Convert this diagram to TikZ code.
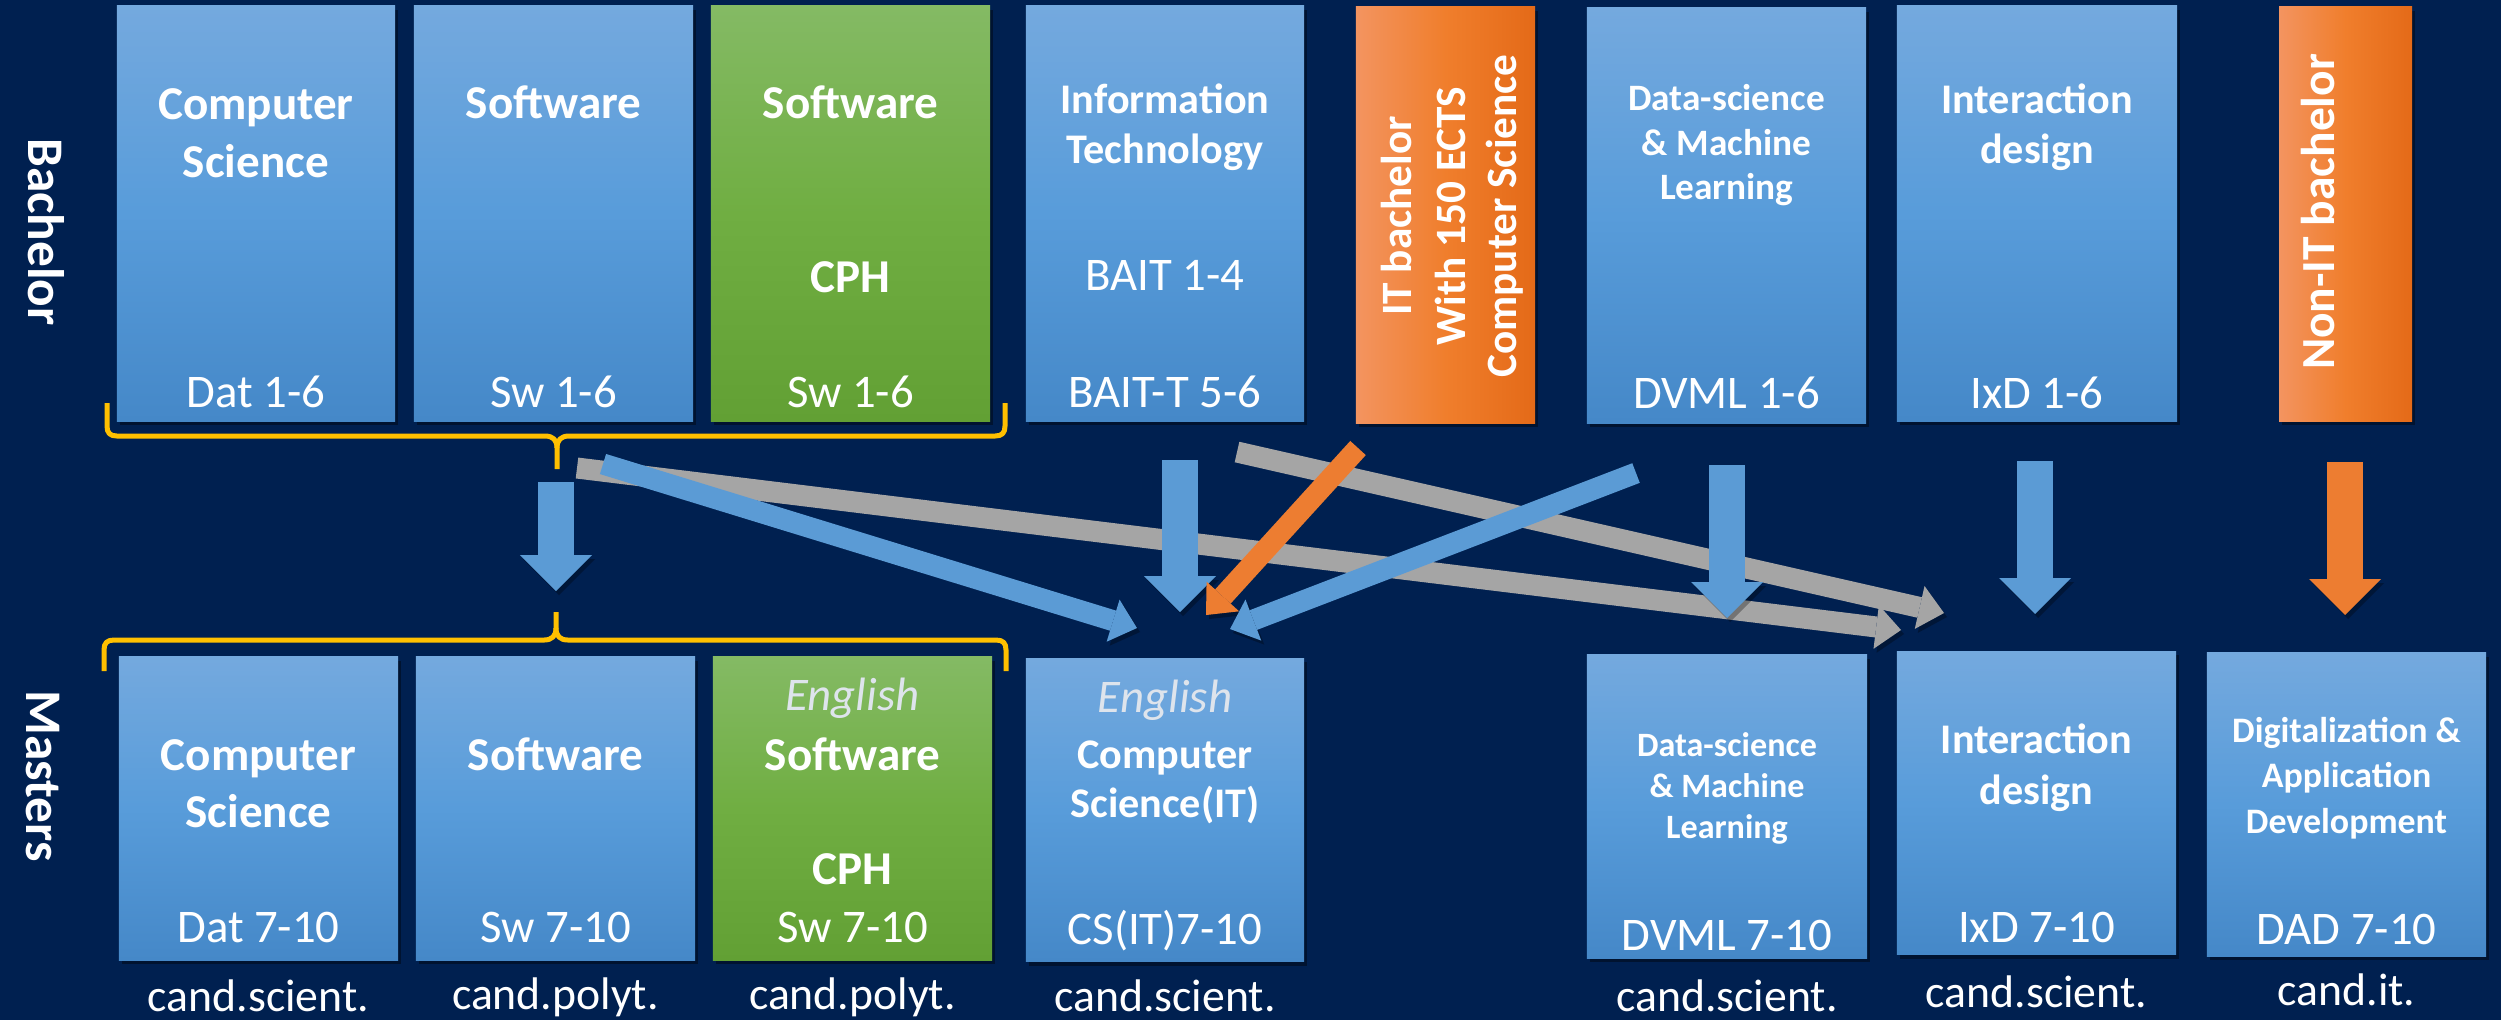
\documentclass[tikz,border=0pt]{standalone}
\usepackage{fontspec}
\setmainfont{Carlito}
\usetikzlibrary{arrows.meta,shadows}
\definecolor{bg}{RGB}{0,32,80}
\definecolor{bluetop}{RGB}{116,169,222}
\definecolor{bluemid}{RGB}{88,156,218}
\definecolor{bluebot}{RGB}{69,136,200}
\definecolor{greentop}{RGB}{132,186,100}
\definecolor{greenmid}{RGB}{112,174,66}
\definecolor{greenbot}{RGB}{98,160,52}
\definecolor{orleft}{RGB}{243,148,96}
\definecolor{ormid}{RGB}{240,126,44}
\definecolor{orright}{RGB}{228,106,24}
\definecolor{accblue}{RGB}{91,155,213}
\definecolor{accorange}{RGB}{237,125,49}
\definecolor{accgray}{RGB}{165,165,165}
\definecolor{bracecol}{RGB}{255,192,0}
\definecolor{engl}{RGB}{222,228,236}
\begin{document}
\begin{tikzpicture}[x=0.01cm,y=-0.01cm,
  box/.style={rectangle, inner sep=0pt, outer sep=0pt,
    drop shadow={shadow xshift=0.03cm, shadow yshift=-0.04cm, opacity=0.4, fill=black}},
  bluebox/.style={box, top color=bluetop, bottom color=bluebot, middle color=bluemid},
  greenbox/.style={box, top color=greentop, bottom color=greenbot, middle color=greenmid},
  orbox/.style={box, left color=orleft, right color=orright, middle color=ormid},
  topbox/.style={minimum height=4.15cm},
  botbox/.style={minimum height=3.03cm},
  txt/.style={text=white, inner sep=0pt, outer sep=0pt, anchor=base},
  tb/.style={txt, font=\bfseries\fontsize{13.4}{16}\selectfont},
  tm/.style={txt, font=\bfseries\fontsize{12}{14}\selectfont},
  ts/.style={txt, font=\bfseries\fontsize{10.6}{12.5}\selectfont},
  ts2/.style={txt, font=\bfseries\fontsize{9.7}{11.5}\selectfont},
  tsd/.style={txt, font=\bfseries\fontsize{10.2}{12}\selectfont},
  code/.style={txt, font=\fontsize{13.3}{16}\selectfont},
  eng/.style={txt, text=engl, font=\itshape\fontsize{13.3}{16}\selectfont},
  cand/.style={txt, font=\fontsize{13}{16}\selectfont},
  side/.style={txt, rotate=-90, font=\bfseries\fontsize{14.6}{17}\selectfont},
  vtxt/.style={txt, rotate=90, font=\bfseries\fontsize{12.3}{15}\selectfont},
  shad/.style={preaction={draw=black, opacity=0.3, transform canvas={shift={(0.03cm,-0.04cm)}}}},
  varrow/.style={shad, line width=0.36cm, -{Triangle[width=0.72cm,length=0.36cm,line width=0pt]}},
  darrow/.style={shad, line width=0.21cm, -{Triangle[width=0.44cm,length=0.25cm,line width=0pt]}},
  bracepath/.style={draw=bracecol, line width=0.05cm, line join=round}
]
\fill[bg] (0,0) rectangle (2501,1020);
\useasboundingbox (0,0) rectangle (2501,1020);

% ---------- side labels
\node[side] (lBach) at (28,232) {Bachelor};
\node[side] (lMast) at (27,776) {Masters};

% ---------- bachelor boxes
\node[bluebox, topbox, minimum width=2.78cm] (bCS) at (256,213.5) {};
\node[bluebox, topbox, minimum width=2.79cm] (bSW) at (553.5,213.5) {};
\node[greenbox, topbox, minimum width=2.79cm] (bSWc) at (850.5,213.5) {};
\node[bluebox, topbox, minimum width=2.78cm] (bIT) at (1165,213.5) {};
\node[orbox, minimum width=1.79cm, minimum height=4.16cm] (bITb) at (1445.5,215) {};
\node[bluebox, topbox, minimum width=2.79cm] (bDV) at (1726.5,215.5) {};
\node[bluebox, topbox, minimum width=2.80cm] (bIx) at (2037,213.5) {};
\node[orbox, minimum width=1.33cm, minimum height=4.14cm] (bNon) at (2345.5,214) {};

% ---------- master boxes
\node[bluebox, botbox, minimum width=2.79cm] (mCS) at (258.5,808.5) {};
\node[bluebox, botbox, minimum width=2.79cm] (mSW) at (555.5,808.5) {};
\node[greenbox, botbox, minimum width=2.79cm] (mSWc) at (852.5,808.5) {};
\node[bluebox, botbox, minimum width=2.78cm] (mCSIT) at (1165,810) {};
\node[bluebox, botbox, minimum width=2.80cm] (mDV) at (1727,806.5) {};
\node[bluebox, botbox, minimum width=2.79cm] (mIx) at (2036.5,803) {};
\node[bluebox, botbox, minimum width=2.79cm] (mDAD) at (2346.5,804.5) {};

% ---------- bachelor texts
\node[tb] (tCS1) at (256,119) {Computer};
\node[tb] (tCS2) at (256,177) {Science};
\node[code] (cCS) at (256,407) {Dat 1-6};
\node[tb] (tSW) at (553.5,118) {Software};
\node[code] (cSW) at (553.5,407) {Sw 1-6};
\node[tb] (tSWc1) at (850.5,118) {Software};
\node[tb] (tSWc2) at (850.5,292) {CPH};
\node[code] (cSWc) at (850.5,407) {Sw 1-6};
\node[tm] (tIT1) at (1165,113) {Information};
\node[tm] (tIT2) at (1165,163) {Technology};
\node[code] (cIT1) at (1165,290) {BAIT 1-4};
\node[code] (cIT2) at (1165,407) {BAIT-T 5-6};
\node[vtxt] (tOB1) at (1411,216) {IT bachelor};
\node[vtxt] (tOB2) at (1465,216) {With 150 ECTS};
\node[vtxt] (tOB3) at (1516,216) {Computer Science};
\node[ts] (tDV1) at (1726.5,110) {Data-science};
\node[ts] (tDV2) at (1726.5,155) {\& Machine};
\node[ts] (tDV3) at (1726.5,199) {Learning};
\node[code] (cDV) at (1726.5,408) {DVML 1-6};
\node[tm] (tIx1) at (2037,113) {Interaction};
\node[tm] (tIx2) at (2037,163) {design};
\node[code] (cIx) at (2037,408) {IxD 1-6};
\node[vtxt, font=\bfseries\fontsize{13.5}{16}\selectfont] (tNon) at (2334,212) {Non-IT bachelor};

% ---------- master texts
\node[tb] (uCS1) at (258.5,770) {Computer};
\node[tb] (uCS2) at (258.5,827) {Science};
\node[code] (dCS) at (258.5,942) {Dat 7-10};
\node[cand] (kCS) at (258.5,1011) {cand.scient.};
\node[tb] (uSW) at (555.5,770) {Software};
\node[code] (dSW) at (555.5,942) {Sw 7-10};
\node[cand] (kSW) at (555.5,1009) {cand.polyt.};
\node[eng] (eSWc) at (852.5,710) {English};
\node[tb] (uSWc1) at (852.5,770) {Software};
\node[tb] (uSWc2) at (852.5,884) {CPH};
\node[code] (dSWc) at (852.5,942) {Sw 7-10};
\node[cand] (kSWc) at (852.5,1009) {cand.polyt.};
\node[eng] (eCSIT) at (1165,712) {English};
\node[tm] (uCSIT1) at (1165,768) {Computer};
\node[tm] (uCSIT2) at (1165,817) {Science(IT)};
\node[code] (dCSIT) at (1165,944) {CS(IT)7-10};
\node[cand] (kCSIT) at (1165,1011) {cand.scient.};
\node[ts2] (uDV1) at (1727,756) {Data-science};
\node[ts2] (uDV2) at (1727,797) {\& Machine};
\node[ts2] (uDV3) at (1727,838) {Learning};
\node[code] (dDV) at (1727,950) {DVML 7-10};
\node[cand] (kDV) at (1727,1011) {cand.scient.};
\node[tm] (uIx1) at (2036.5,753) {Interaction};
\node[tm] (uIx2) at (2036.5,804) {design};
\node[code] (dIx) at (2036.5,942) {IxD 7-10};
\node[cand] (kIx) at (2036.5,1007) {cand.scient.};
\node[tsd] (uDAD1) at (2346.5,742) {Digitalization \&};
\node[tsd] (uDAD2) at (2346.5,787) {Application};
\node[tsd] (uDAD3) at (2346.5,833) {Development};
\node[code] (dDAD) at (2346.5,944) {DAD 7-10};
\node[cand] (kDAD) at (2346.5,1005) {cand.it.};

% ---------- braces
\draw[bracepath] (107,403) -- (107,426) .. controls (107,433) and (110,436) .. (117,436)
  -- (545,436) .. controls (553,436) and (557,440) .. (557,448) -- (557,469);
\draw[bracepath] (557,448) .. controls (557,440) and (561,436) .. (569,436)
  -- (995,436) .. controls (1002,436) and (1005,433) .. (1005,426) -- (1005,403);
\draw[bracepath] (104,671) -- (104,650) .. controls (104,643) and (107,640) .. (114,640)
  -- (544,640) .. controls (552,640) and (556,636) .. (556,628) -- (556,612);
\draw[bracepath] (556,628) .. controls (556,636) and (560,640) .. (568,640)
  -- (996,640) .. controls (1003,640) and (1006,643) .. (1006,650) -- (1006,671);

% ---------- arrow end points
\coordinate (gA1) at (577,468);  \coordinate (gA2) at (1901,630);
\coordinate (gB1) at (1237,452); \coordinate (gB2) at (1944,613);
\coordinate (bA1) at (603,464);  \coordinate (bA2) at (1137,628);
\coordinate (oD1) at (1358,448); \coordinate (oD2) at (1206,615);
\coordinate (bD1) at (1636,473); \coordinate (bD2) at (1230,629);
\coordinate (v0a) at (556,482);  \coordinate (v0b) at (556,591);
\coordinate (v1a) at (1180,460); \coordinate (v1b) at (1180,612);
\coordinate (v2a) at (1727,465); \coordinate (v2b) at (1727,618);
\coordinate (v3a) at (2035,461); \coordinate (v3b) at (2035,614);
\coordinate (v4a) at (2345,462); \coordinate (v4b) at (2345,615);

% ---------- arrows
\draw[darrow, draw=accgray] (gA1) -- (gA2);
\draw[darrow, draw=accgray] (gB1) -- (gB2);
\draw[darrow, draw=accblue] (bA1) -- (bA2);
\draw[varrow, draw=accblue] (v0a) -- (v0b);
\draw[varrow, draw=accblue] (v1a) -- (v1b);
\draw[darrow, draw=accorange] (oD1) -- (oD2);
\draw[darrow, draw=accblue] (bD1) -- (bD2);
\draw[varrow, draw=accblue] (v2a) -- (v2b);
\draw[varrow, draw=accblue] (v3a) -- (v3b);
\draw[varrow, draw=accorange] (v4a) -- (v4b);
\end{tikzpicture}
\end{document}
